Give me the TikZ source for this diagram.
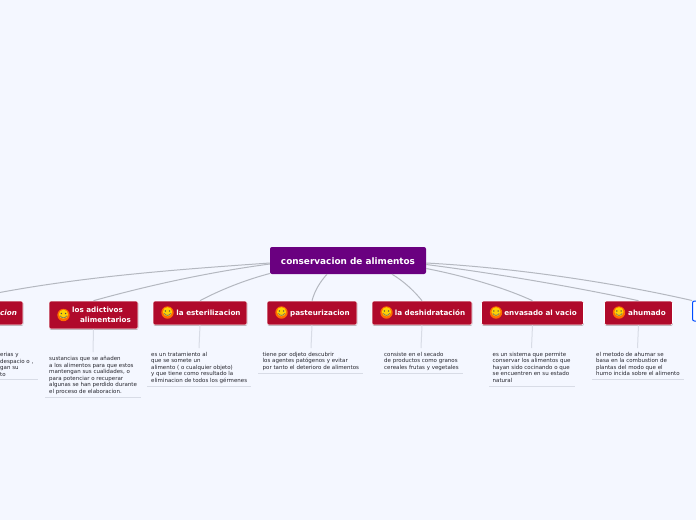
\documentclass[tikz,border=0pt]{standalone}
\usepackage{fontspec}
\setsansfont{DejaVu Sans}
\setmainfont{Liberation Sans}
\usetikzlibrary{positioning, shadows}

\definecolor{paper}{HTML}{F4F7FF}
\definecolor{rootpurple}{HTML}{6A0080}
\definecolor{topicred}{HTML}{B00A2B}
\definecolor{linegrey}{HTML}{B4B8C0}
\definecolor{notegrey}{HTML}{D8DCE6}
\definecolor{notetext}{HTML}{26262E}

\tikzset{
    rootbox/.style={fill=rootpurple, rounded corners=2pt, text=white, minimum height=27pt,
        minimum width=156pt, inner sep=0pt, text height=8pt, text depth=0pt,
        font=\sffamily\bfseries\fontsize{8.9}{11}\selectfont},
    topicbox/.style={fill=topicred, draw=white, line width=0.6pt, rounded corners=2pt, text=white,
        inner sep=0pt, font=\sffamily\bfseries\fontsize{7.2}{10}\selectfont,
        drop shadow={shadow xshift=0.3pt, shadow yshift=-0.8pt, opacity=0.35, fill=black}},
    oneline/.style={text height=5.5pt, text depth=0pt},
    notetxt/.style={align=left, anchor=north west, inner sep=0pt, text=notetext,
        font=\sffamily\fontsize{5.5}{6.55}\selectfont},
    noteline/.style={notegrey, line width=1pt},
    branch/.style={linegrey, line width=1pt},
    stem/.style={notegrey, line width=1pt},
}

% la carita de cada tema
\newcommand{\carita}[2]{
    \fill[orange!85!red] (#1,#2) circle (6.2pt);
    \fill[yellow!70!orange] (#1,#2-0.7) circle (4.6pt);
    \fill[black!70] (#1-2.1,#2-1.5) circle (0.8pt) (#1+2.1,#2-1.5) circle (0.8pt);
    \draw[black!55, line width=0.7pt] (#1-3.2,#2+0.8) .. controls (#1-1.2,#2+3.6) and (#1+1.2,#2+3.6) .. (#1+3.2,#2+0.8);
}

\begin{document}
\begin{tikzpicture}[x=1pt, y=-1pt]

    % 1. fondo
    \useasboundingbox (0,0) rectangle (696,520);
    \clip (0,0) rectangle (696,520);
    \fill[paper] (0,0) rectangle (696,520);

    % 2. nodo central
    \node[rootbox] (raiz) at (348,260.5) {conservacion de alimentos};

    % 3. temas
    \node[topicbox, oneline, minimum width=126pt, minimum height=24pt] (refrig) at (-40,313) {\hspace*{97pt}\itshape cion};
    \node[topicbox, minimum width=89pt, minimum height=28pt, align=center] (aditivos) at (93.5,315) {\hspace*{8pt}los adictivos\\\hspace*{24pt}alimentarios};
    \node[topicbox, oneline, minimum width=94pt, minimum height=24pt] (esteril) at (200,313) {\hspace*{17pt}la esterilizacion};
    \node[topicbox, oneline, minimum width=90pt, minimum height=24pt] (pasteur) at (312,313) {\hspace*{16pt}pasteurizacion};
    \node[topicbox, oneline, minimum width=100pt, minimum height=24pt] (deshid) at (422,313) {\hspace*{16pt}la deshidratación};
    \node[topicbox, oneline, minimum width=102pt, minimum height=24pt] (vacio) at (532.5,313) {\hspace*{16pt}envasado al vacio};
    \node[topicbox, oneline, minimum width=68pt, minimum height=24pt] (ahumado) at (638.5,313) {\hspace*{17pt}ahumado};
    \node[fill=white, draw=blue!70!cyan, line width=1pt, rounded corners=2pt, minimum width=30pt, minimum height=20pt] (otro) at (707.5,311) {};

    \carita{63.5}{315}
    \carita{167.5}{312.5}
    \carita{281.5}{312.5}
    \carita{386.5}{312.5}
    \carita{496}{312.5}
    \carita{619}{312.5}

    % 4. ramas del nodo central
    \draw[branch] ([yshift=-2.5pt]raiz.west) .. controls (170,270) and (60,278) .. (refrig.north);
    \draw[branch] ([yshift=-3.5pt]raiz.west) .. controls (210,272) and (150,285) .. (aditivos.north);
    \draw[branch] ([yshift=-13pt]raiz.west) .. controls (245,280) and (220,290) .. (esteril.north);
    \draw[branch] ([xshift=-21pt]raiz.south) .. controls (320,282) and (315,290) .. (pasteur.north);
    \draw[branch] ([xshift=44pt]raiz.south) .. controls (405,282) and (415,292) .. (deshid.north);
    \draw[branch] ([yshift=-8pt]raiz.east) .. controls (465,276) and (505,288) .. (vacio.north);
    \draw[branch] ([yshift=-4pt]raiz.east) .. controls (500,274) and (580,288) .. (ahumado.north);
    \draw[branch] ([yshift=-2.5pt]raiz.east) .. controls (520,268) and (620,284) .. (otro.north west);

    % 5. textos
    \node[notetxt] (nota0) at (0,352.3) {erias y\\despacio o ,\\gan su\\to};
    \node[notetxt] (nota1) at (49,356.3) {sustancias que se añaden\\a los alimentos para que estos\\mantengan sus cualidades, o\\para potenciar o recuperar\\algunas se han perdido durante\\el proceso de elaboracion.};
    \node[notetxt] (nota2) at (151,351.8) {es un tratamiento al\\que se somete un\\alimento ( o cualquier objeto)\\y que tiene como resultado la\\eliminacion de todos los gérmenes};
    \node[notetxt] (nota3) at (262.5,351.8) {tiene por odjeto descubrir\\los agentes patógenos y evitar\\por tanto el deterioro de alimentos};
    \node[notetxt] (nota4) at (384,351.8) {consiste en el secado\\de productos como granos\\cereales frutas y vegetales};
    \node[notetxt] (nota5) at (492.5,351.8) {es un sistema que permite\\conservar los alimentos que\\hayan sido cocinando o que\\se encuentren en su estado\\natural};
    \node[notetxt] (nota6) at (596,351.8) {el metodo de ahumar se\\basa en la combustion de\\plantas del modo que el\\humo incida sobre el alimento};

    % 6. tallos y lineas bajo las notas
    \draw[stem] (aditivos.south) -- (93,352);
    \draw[stem] (esteril.south) -- (199,348);
    \draw[stem] (pasteur.south) -- (311,348);
    \draw[stem] (deshid.south) -- (421,348);
    \draw[stem] (vacio.south) -- (531.5,348);
    \draw[stem] (ahumado.south) -- (637.5,348);
    \draw[noteline] (0,379) -- (38,379);
    \draw[noteline] (45,397) -- (141,397);
    \draw[noteline] (147,386) -- (251,386);
    \draw[noteline] (258,373) -- (363,373);
    \draw[noteline] (380,373) -- (463,373);
    \draw[noteline] (489,386) -- (575,386);
    \draw[noteline] (592,379) -- (684,379);

\end{tikzpicture}
\end{document}
